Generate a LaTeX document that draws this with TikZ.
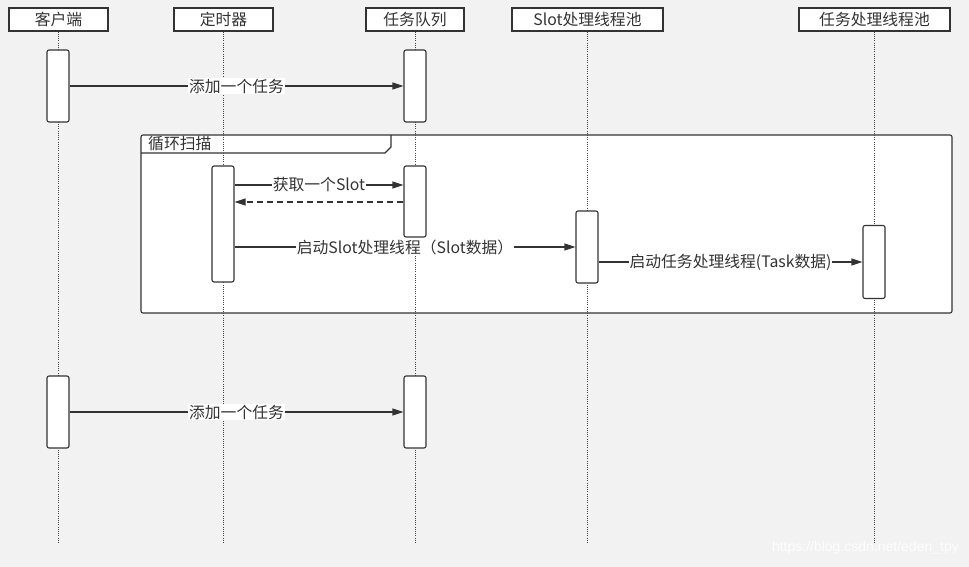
\documentclass[tikz,border=0pt]{standalone}
\usepackage{fontspec}
\newfontfamily\cjk{Noto Sans CJK SC}
\newfontfamily\marksf{Liberation Sans}
\usetikzlibrary{arrows.meta}
\definecolor{bggray}{HTML}{F2F2F2}
\definecolor{linegray}{HTML}{333333}
\definecolor{dotgray}{HTML}{444444}
\definecolor{markgray}{HTML}{FDFDFD}

\begin{document}
\begin{tikzpicture}[x=1pt,y=-1pt,>=Latex,
  head/.style={draw=linegray,line width=1.1pt,fill=white,minimum height=23pt,
    inner sep=0pt,text=linegray,font=\cjk\fontsize{15.8}{18}\selectfont},
  bar/.style={draw=linegray,line width=1.1pt,fill=white,rounded corners=2pt,
    minimum width=22pt,inner sep=0pt},
  life/.style={dotgray,line width=0.9pt,dash pattern=on 1pt off 1.2pt},
  msg/.style={-{Triangle[length=11pt,width=7pt]},line width=1.1pt,linegray},
  ret/.style={msg,dash pattern=on 6pt off 4pt},
  lbl/.style={fill=white,inner sep=1pt,text=linegray,font=\cjk\fontsize{15.8}{18}\selectfont}]
\fill[bggray] (0,0) rectangle (969,567);

% loop frame
\draw[linegray,line width=1.1pt,fill=white,rounded corners=2pt] (141,135) rectangle (952,313);
\draw[linegray,line width=1.1pt] (141,153) -- (385,153) -- (391,147) -- (391,135);
\node[anchor=west,inner sep=0pt,text=linegray,font=\cjk\fontsize{15.8}{18}\selectfont]
  (loopname) at (148,144) {循环扫描};

% participants
\node[head,minimum width=99pt] (kehu) at (58.5,19.5) {客户端};
\node[head,minimum width=99pt] (dingshi) at (223.5,19.5) {定时器};
\node[head,minimum width=98pt] (duilie) at (415,19.5) {任务队列};
\node[head,minimum width=151pt] (slotpool) at (587.5,19.5) {Slot处理线程池};
\node[head,minimum width=151pt] (taskpool) at (874.5,19.5) {任务处理线程池};

\coordinate (bottom) at (0,544);
\foreach \n in {kehu,dingshi,duilie,slotpool,taskpool}
  \draw[life] (\n.south) -- (\n.south |- bottom);

% activations
\node[bar,minimum height=72pt] (kh1) at (58,86) {};
\node[bar,minimum height=72pt] (dl1) at (415,86) {};
\node[bar,minimum height=116pt] (ds1) at (223,224) {};
\node[bar,minimum height=71pt] (dl2) at (415,201.5) {};
\node[bar,minimum height=72pt] (sp1) at (587,247) {};
\node[bar,minimum height=73pt] (tp1) at (874,262) {};
\node[bar,minimum height=72pt] (kh2) at (58,412) {};
\node[bar,minimum height=72pt] (dl3) at (415,412) {};

\coordinate (rowA) at (0,185);
\coordinate (rowB) at (0,202);

% messages
\draw[msg] (kh1.east) -- node[lbl]{添加一个任务} (dl1.west);
\draw[msg] (ds1.east |- rowA) -- node[lbl]{获取一个Slot} (dl2.west |- rowA);
\draw[ret] (dl2.west |- rowB) -- (ds1.east |- rowB);
\draw[msg] (ds1.east |- sp1) -- node[lbl]{启动Slot处理线程（Slot数据）} (sp1.west);
\draw[msg] (sp1.east |- tp1) -- node[lbl]{启动任务处理线程(Task数据)} (tp1.west);
\draw[msg] (kh2.east) -- node[lbl]{添加一个任务} (dl3.west);

\node[anchor=east,inner sep=0pt,text=markgray,font=\marksf\fontsize{14}{16}\selectfont]
  (mark) at (959,548) {https://blog.csdn.net/eden\_tpy};
\end{tikzpicture}
\end{document}
